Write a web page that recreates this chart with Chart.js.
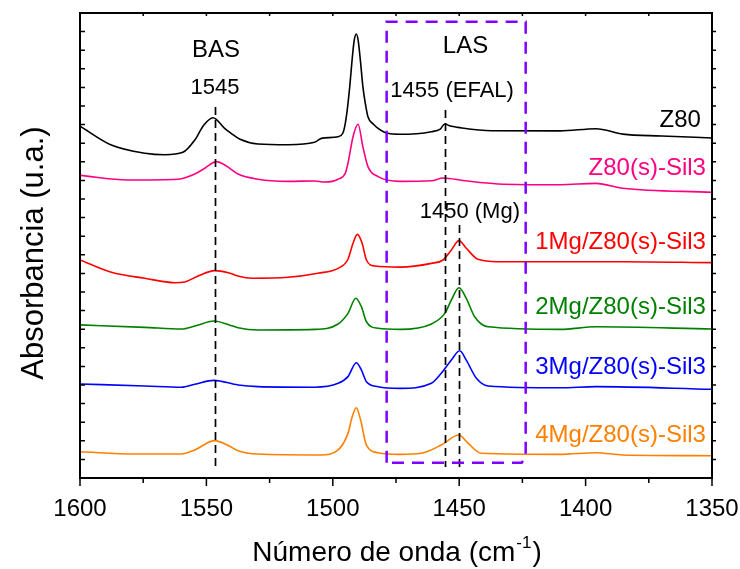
<!DOCTYPE html>
<html>
<head>
<meta charset="utf-8">
<script src="https://cdn.jsdelivr.net/npm/chart.js@4/dist/chart.umd.min.js"></script>
<style>
html,body{margin:0;padding:0;background:#fff;}
#wrap{width:740px;height:569px;}
</style>
</head>
<body>
<div id="wrap"><canvas id="c" width="740" height="569"></canvas></div>
<script>
// ---- data (wavenumber in cm-1, absorbance in arbitrary stacked units) ----
const z80Wn = [1600,1587.6,1574.3,1566.5,1559.3,1554.6,1551.0,1547.4,1542.8,1540.2,1536.7,1529.6,1517.7,1507.2,1504.5,1497.9,1496.0,1495.3,1494.3,1493.3,1492.3,1491.5,1490.7,1490.0,1489.1,1488.1,1487.1,1486.1,1484.0,1482.1,1478.2,1473.4,1461.0,1457.5,1455.7,1453.5,1450.5,1437.3,1410.1,1395.9,1385.3,1370,1350];
const z80Abs = [18.92,17.90,17.46,17.38,17.51,18.17,18.98,19.37,18.80,18.53,18.21,17.96,17.92,18.05,18.26,18.35,18.55,18.89,19.78,21.04,22.58,23.55,23.87,23.55,22.47,21.04,20.11,19.42,19.03,18.80,18.53,18.48,18.62,18.76,19.03,18.92,18.85,18.67,18.66,18.78,18.49,18.39,18.28];

const sil3Wn = [1600,1581.0,1561.2,1554.6,1550.5,1546.1,1542,1537.5,1529.6,1517.7,1507.2,1503.2,1497.9,1495.0,1494.0,1492.0,1490.0,1488.1,1486.1,1482.1,1473.4,1461.0,1456.4,1447.8,1434.7,1410.1,1395.9,1385.3,1350];
const sil3Abs = [16.27,16.02,16.06,16.34,16.67,17.01,16.77,16.34,16.06,15.95,15.97,15.91,16.06,16.40,16.92,18.35,19.02,17.81,16.74,16.20,15.95,15.98,16.13,15.98,15.81,15.77,15.84,15.58,15.36];

const mg1Wn = [1600,1587.6,1574.4,1562.5,1558.6,1553.3,1546.7,1541,1537.5,1532.2,1517.7,1505.9,1497.9,1494.0,1492.0,1490.3,1488.4,1486.7,1483.4,1473.4,1461.0,1456.4,1453.1,1450.1,1447.2,1442.6,1434.7,1410.1,1385.3,1350];
const mg1Abs = [11.72,11.06,10.74,10.50,10.54,10.86,11.15,11.02,10.86,10.74,10.79,11.01,11.27,11.76,12.62,13.10,12.62,11.72,11.40,11.34,11.54,11.72,12.26,12.76,12.35,11.76,11.63,11.63,11.63,11.58];

const mg2Wn = [1600,1574.4,1559.9,1554.6,1547.0,1541,1537.5,1529.6,1507.2,1497.9,1494.0,1490.9,1488.7,1486.7,1482.1,1473.4,1461.0,1455.7,1453.1,1450.1,1447.2,1443.9,1438.6,1410.1,1395.9,1350];
const mg2Abs = [8.23,8.10,8.01,8.17,8.44,8.23,8.08,7.96,7.99,8.28,8.85,9.66,9.21,8.40,8.05,7.99,8.28,8.85,9.57,10.23,9.66,8.67,8.13,7.99,8.13,8.01];

const mg3Wn = [1600,1574.4,1559.9,1554.6,1547.0,1537.5,1529.6,1507.2,1497.9,1494.0,1490.7,1488.7,1486.7,1482.1,1473.4,1461.0,1457.1,1453.1,1449.8,1447.2,1443.2,1438.6,1410.1,1395.9,1350];
const mg3Abs = [5.05,4.95,4.88,5.04,5.25,5.00,4.91,4.88,5.09,5.45,6.20,5.81,5.18,4.91,4.82,5.09,5.63,6.34,6.84,6.34,5.36,4.95,4.85,4.91,4.77];

const mg4Wn = [1600,1578.4,1559.9,1554.6,1546.7,1541,1537.5,1529.6,1504.6,1497.9,1494.0,1492.3,1490.7,1489.0,1486.7,1482.1,1473.4,1465.0,1457.1,1450.1,1446.5,1441.3,1410.1,1395.9,1385.3,1350];
const mg4Abs = [1.41,1.29,1.29,1.51,2.01,1.72,1.47,1.29,1.24,1.51,2.40,3.30,3.78,3.12,1.77,1.36,1.27,1.33,1.77,2.31,1.87,1.33,1.27,1.36,1.24,1.20];

const seriesNames = ['Z80','Z80(s)-Sil3','1Mg/Z80(s)-Sil3','2Mg/Z80(s)-Sil3','3Mg/Z80(s)-Sil3','4Mg/Z80(s)-Sil3'];
const seriesColors = ['#000000','#FF0080','#FF0000','#008000','#0000FF','#FF8000'];
const seriesWn = [z80Wn, sil3Wn, mg1Wn, mg2Wn, mg3Wn, mg4Wn];
const seriesAbs = [z80Abs, sil3Abs, mg1Abs, mg2Abs, mg3Abs, mg4Abs];
// label anchor (wavenumber, absorbance) for each series name
const labelWn = [1354.4,1352.4,1352.4,1352.4,1352.4,1352.4];
const labelAbs = [18.89,16.29,12.31,8.82,5.59,1.94];

const xMin = 1350, xMax = 1600, xMajor = 50, xMinor = 25;
const yMin = 0, yMax = 25, yStep = 1;

// marker lines: [wavenumber, from abs, to abs]
const markerLines = [[1546.7,19.95,0.59],[1455.7,19.78,0.59],[1450.1,13.6,0.59]];
// annotation texts: [text, wavenumber, absorbance(baseline), size]
const annotTexts = [['BAS',1546.2,22.63,24],['1545',1546.6,20.65,22],['LAS',1447.5,22.83,24],['1455 (EFAL)',1452.8,20.5,22],['1450 (Mg)',1445.8,13.96,22]];
// LAS region box: [wn left, wn right, abs top, abs bottom]
const lasBox = [1478.7,1423.7,24.53,0.82];

const FONT = "'Liberation Sans', Arial, sans-serif";

const datasets = seriesNames.map((n,i)=>({
  label:n,
  data: seriesWn[i].map((w,j)=>({x:w,y:seriesAbs[i][j]})),
  borderColor: seriesColors[i],
  borderWidth: 1.6,
  pointRadius: 0,
  fill:false,
  cubicInterpolationMode:'monotone'
}));

const decor = {
  id:'decor',
  afterDatasetsDraw(chart){
    const ctx = chart.ctx, xs = chart.scales.x, ys = chart.scales.y, a = chart.chartArea;
    ctx.save();
    // marker dashed lines
    ctx.strokeStyle='#000'; ctx.lineWidth=1.7; ctx.setLineDash([8,5]);
    markerLines.forEach(m=>{
      const px = Math.round(xs.getPixelForValue(m[0]))+0.5;
      ctx.beginPath(); ctx.moveTo(px, ys.getPixelForValue(m[1])); ctx.lineTo(px, ys.getPixelForValue(m[2])); ctx.stroke();
    });
    // LAS box
    ctx.strokeStyle='#8000FF'; ctx.lineWidth=2.5; ctx.setLineDash([12,8]);
    const bl = xs.getPixelForValue(lasBox[0]), br = xs.getPixelForValue(lasBox[1]);
    const bt = ys.getPixelForValue(lasBox[2]), bb = ys.getPixelForValue(lasBox[3]);
    ctx.beginPath(); ctx.moveTo(bl,bb); ctx.lineTo(bl,bt); ctx.lineTo(br,bt); ctx.lineTo(br,bb-6); ctx.lineTo(br-4,bb); ctx.closePath(); ctx.stroke();
    ctx.setLineDash([]);
    // annotation texts
    ctx.fillStyle='#000'; ctx.textAlign='center'; ctx.textBaseline='alphabetic';
    annotTexts.forEach(t=>{
      ctx.font = t[3]+'px '+FONT;
      ctx.fillText(t[0], xs.getPixelForValue(t[1]), ys.getPixelForValue(t[2]));
    });
    // series labels
    ctx.textAlign='right'; ctx.font='24px '+FONT;
    seriesNames.forEach((n,i)=>{
      ctx.fillStyle = seriesColors[i];
      ctx.fillText(n, xs.getPixelForValue(labelWn[i]), ys.getPixelForValue(labelAbs[i]));
    });
    ctx.restore();
  },
  afterDraw(chart){
    const ctx = chart.ctx, xs = chart.scales.x, ys = chart.scales.y, a = chart.chartArea;
    ctx.save();
    ctx.strokeStyle='#000'; ctx.lineWidth=2;
    ctx.strokeRect(a.left, a.top, a.right-a.left, a.bottom-a.top);
    ctx.lineWidth=1.5;
    ctx.beginPath();
    for(let v=xMin; v<=xMax; v+=xMinor){
      const px = xs.getPixelForValue(v);
      const major = (v % xMajor)===0;
      ctx.moveTo(px, a.bottom); ctx.lineTo(px, a.bottom + (major?8:5));
      ctx.moveTo(px, a.top); ctx.lineTo(px, a.top + 3);
    }
    for(let v=yMin+yStep; v<yMax; v+=yStep){
      const py = ys.getPixelForValue(v);
      ctx.moveTo(a.left, py); ctx.lineTo(a.left+5, py);
      ctx.moveTo(a.right, py); ctx.lineTo(a.right+4, py);
    }
    ctx.stroke();
    // axis titles
    ctx.fillStyle='#000';
    const tf='28px '+FONT, sf='17px '+FONT;
    ctx.font=tf;
    const t1='Número de onda (cm', sup='-1', t2=')';
    const w1=ctx.measureText(t1).width, w3=ctx.measureText(t2).width;
    ctx.font=sf; const w2=ctx.measureText(sup).width;
    const total=w1+w2+w3+2;
    let x0 = 397 - total/2, base = 561;
    ctx.textAlign='left'; ctx.textBaseline='alphabetic';
    ctx.font=tf; ctx.fillText(t1,x0,base);
    ctx.font=sf; ctx.fillText(sup,x0+w1+1,base-13);
    ctx.font=tf; ctx.fillText(t2,x0+w1+w2+2,base);
    ctx.font='31px '+FONT;
    ctx.translate(43, 253);
    ctx.rotate(-Math.PI/2);
    ctx.textAlign='center';
    ctx.fillText('Absorbancia (u.a.)',0,0);
    ctx.restore();
  }
};

new Chart(document.getElementById('c'), {
  type:'line',
  data:{datasets},
  options:{
    responsive:false, animation:false,
    layout:{padding:{left:80,right:28,top:13,bottom:0}},
    plugins:{legend:{display:false}, tooltip:{enabled:false}},
    scales:{
      x:{type:'linear', reverse:true, min:xMin, max:xMax,
         grid:{display:false, drawTicks:false}, border:{display:false},
         ticks:{stepSize:xMajor, autoSkip:false, maxRotation:0, padding:17, color:'#000', font:{family:FONT, size:24},
                callback:(v)=>String(v)},
         afterFit(s){ s.height = 91; s.paddingLeft = 0; s.paddingRight = 0; }},
      y:{type:'linear', min:yMin, max:yMax, display:false}
    }
  },
  plugins:[decor]
});
</script>
</body>
</html>
